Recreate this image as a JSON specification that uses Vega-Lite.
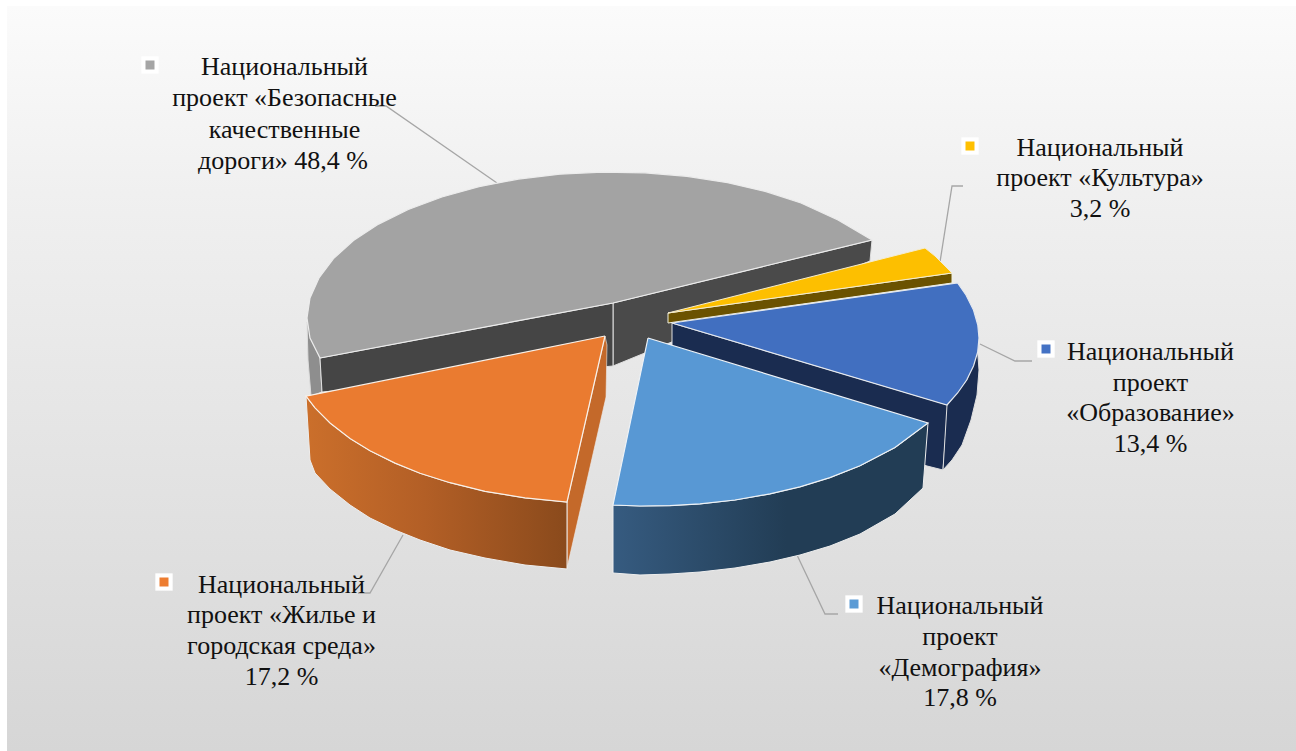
{"$schema":"https://vega.github.io/schema/vega-lite/v6.json","width":1296,"height":751,"padding":0,"autosize":{"type":"fit","contains":"padding"},"background":"#ffffff","view":{"stroke":null},
"datasets":{
"panel":[{"x":7,"x2":1296,"y":6,"y2":751}],
"outline":[
{"part":"grayOuter","i":0,"x":307,"y":322},{"part":"grayOuter","i":1,"x":320,"y":358},{"part":"grayOuter","i":2,"x":322,"y":392},{"part":"grayOuter","i":3,"x":311,"y":396},{"part":"grayOuter","i":4,"x":308,"y":360},{"part":"grayOuter","i":5,"x":307,"y":322},
{"part":"grayWallL","i":0,"x":320,"y":358},{"part":"grayWallL","i":1,"x":613,"y":303},{"part":"grayWallL","i":2,"x":613,"y":366},{"part":"grayWallL","i":3,"x":322,"y":392},{"part":"grayWallL","i":4,"x":320,"y":358},
{"part":"grayWallR","i":0,"x":613,"y":303},{"part":"grayWallR","i":1,"x":872,"y":240},{"part":"grayWallR","i":2,"x":870,"y":261},{"part":"grayWallR","i":3,"x":613,"y":366},{"part":"grayWallR","i":4,"x":613,"y":303},
{"part":"grayTop","i":0,"x":320,"y":358},{"part":"grayTop","i":1,"x":310,"y":338},{"part":"grayTop","i":2,"x":307,"y":318},{"part":"grayTop","i":3,"x":310,"y":298},{"part":"grayTop","i":4,"x":319,"y":278},{"part":"grayTop","i":5,"x":333.5,"y":258.6},{"part":"grayTop","i":6,"x":353.5,"y":240.6},{"part":"grayTop","i":7,"x":378.6,"y":224.1},{"part":"grayTop","i":8,"x":408.3,"y":209.5},{"part":"grayTop","i":9,"x":441.9,"y":197},{"part":"grayTop","i":10,"x":479,"y":186.7},{"part":"grayTop","i":11,"x":518.4,"y":179.1},{"part":"grayTop","i":12,"x":559.9,"y":174.2},{"part":"grayTop","i":13,"x":602.3,"y":172.1},{"part":"grayTop","i":14,"x":645,"y":172.8},{"part":"grayTop","i":15,"x":687,"y":176.3},{"part":"grayTop","i":16,"x":727.6,"y":182.7},{"part":"grayTop","i":17,"x":766,"y":191.6},{"part":"grayTop","i":18,"x":801,"y":203},{"part":"grayTop","i":19,"x":838,"y":220},{"part":"grayTop","i":20,"x":872,"y":240},{"part":"grayTop","i":21,"x":613,"y":303},{"part":"grayTop","i":22,"x":320,"y":358},
{"part":"yellowSide","i":0,"x":668,"y":313},{"part":"yellowSide","i":1,"x":952,"y":273},{"part":"yellowSide","i":2,"x":952,"y":283},{"part":"yellowSide","i":3,"x":668,"y":323},{"part":"yellowSide","i":4,"x":668,"y":313},
{"part":"yellowTop","i":0,"x":668,"y":313},{"part":"yellowTop","i":1,"x":925,"y":248},{"part":"yellowTop","i":2,"x":935,"y":256},{"part":"yellowTop","i":3,"x":952,"y":273},{"part":"yellowTop","i":4,"x":668,"y":313},
{"part":"blueWall","i":0,"x":672,"y":323},{"part":"blueWall","i":1,"x":948,"y":405},{"part":"blueWall","i":2,"x":943,"y":470},{"part":"blueWall","i":3,"x":927,"y":466},{"part":"blueWall","i":4,"x":672,"y":385},{"part":"blueWall","i":5,"x":672,"y":323},
{"part":"blueOuter","i":0,"x":947,"y":405},{"part":"blueOuter","i":1,"x":966.7,"y":380},{"part":"blueOuter","i":2,"x":977.7,"y":352},{"part":"blueOuter","i":3,"x":979,"y":370},{"part":"blueOuter","i":4,"x":977,"y":395},{"part":"blueOuter","i":5,"x":971,"y":420},{"part":"blueOuter","i":6,"x":962,"y":445},{"part":"blueOuter","i":7,"x":952,"y":460},{"part":"blueOuter","i":8,"x":943,"y":470},{"part":"blueOuter","i":9,"x":947,"y":405},
{"part":"blueTop","i":0,"x":672,"y":323},{"part":"blueTop","i":1,"x":957.6,"y":283},{"part":"blueTop","i":2,"x":966,"y":295},{"part":"blueTop","i":3,"x":973.5,"y":310},{"part":"blueTop","i":4,"x":977.8,"y":325},{"part":"blueTop","i":5,"x":979,"y":338},{"part":"blueTop","i":6,"x":977.7,"y":352},{"part":"blueTop","i":7,"x":973.5,"y":366},{"part":"blueTop","i":8,"x":966.7,"y":380},{"part":"blueTop","i":9,"x":957.6,"y":393},{"part":"blueTop","i":10,"x":947,"y":405},{"part":"blueTop","i":11,"x":672,"y":323},
{"part":"skySide","i":0,"x":613,"y":505},{"part":"skySide","i":1,"x":640,"y":506},{"part":"skySide","i":2,"x":670,"y":505.6},{"part":"skySide","i":3,"x":700,"y":503.9},{"part":"skySide","i":4,"x":735,"y":500},{"part":"skySide","i":5,"x":770,"y":493.9},{"part":"skySide","i":6,"x":800,"y":486.8},{"part":"skySide","i":7,"x":830,"y":477.6},{"part":"skySide","i":8,"x":860,"y":465.8},{"part":"skySide","i":9,"x":895,"y":447.6},{"part":"skySide","i":10,"x":928,"y":423},{"part":"skySide","i":11,"x":923,"y":488},{"part":"skySide","i":12,"x":895,"y":514},{"part":"skySide","i":13,"x":860,"y":534},{"part":"skySide","i":14,"x":830,"y":546},{"part":"skySide","i":15,"x":800,"y":555},{"part":"skySide","i":16,"x":770,"y":562},{"part":"skySide","i":17,"x":735,"y":568},{"part":"skySide","i":18,"x":700,"y":572},{"part":"skySide","i":19,"x":670,"y":574},{"part":"skySide","i":20,"x":640,"y":575},{"part":"skySide","i":21,"x":613,"y":573},{"part":"skySide","i":22,"x":613,"y":505},
{"part":"skyTop","i":0,"x":648,"y":338},{"part":"skyTop","i":1,"x":928,"y":423},{"part":"skyTop","i":2,"x":895,"y":447.6},{"part":"skyTop","i":3,"x":860,"y":465.8},{"part":"skyTop","i":4,"x":830,"y":477.6},{"part":"skyTop","i":5,"x":800,"y":486.8},{"part":"skyTop","i":6,"x":770,"y":493.9},{"part":"skyTop","i":7,"x":735,"y":500},{"part":"skyTop","i":8,"x":700,"y":503.9},{"part":"skyTop","i":9,"x":670,"y":505.6},{"part":"skyTop","i":10,"x":640,"y":506},{"part":"skyTop","i":11,"x":613,"y":505},{"part":"skyTop","i":12,"x":648,"y":338},
{"part":"orangeWall","i":0,"x":605,"y":336},{"part":"orangeWall","i":1,"x":607,"y":345},{"part":"orangeWall","i":2,"x":606,"y":397},{"part":"orangeWall","i":3,"x":567,"y":568},{"part":"orangeWall","i":4,"x":567,"y":502},{"part":"orangeWall","i":5,"x":605,"y":336},
{"part":"orangeSide","i":0,"x":306,"y":396.2},{"part":"orangeSide","i":1,"x":315,"y":407.8},{"part":"orangeSide","i":2,"x":330,"y":423},{"part":"orangeSide","i":3,"x":350,"y":438.4},{"part":"orangeSide","i":4,"x":370,"y":450.7},{"part":"orangeSide","i":5,"x":395,"y":463.1},{"part":"orangeSide","i":6,"x":420,"y":473.2},{"part":"orangeSide","i":7,"x":450,"y":482.7},{"part":"orangeSide","i":8,"x":485,"y":491.3},{"part":"orangeSide","i":9,"x":525,"y":497.9},{"part":"orangeSide","i":10,"x":567,"y":502},{"part":"orangeSide","i":11,"x":567,"y":569},{"part":"orangeSide","i":12,"x":525,"y":565},{"part":"orangeSide","i":13,"x":485,"y":558},{"part":"orangeSide","i":14,"x":450,"y":550},{"part":"orangeSide","i":15,"x":420,"y":540},{"part":"orangeSide","i":16,"x":395,"y":530},{"part":"orangeSide","i":17,"x":370,"y":518},{"part":"orangeSide","i":18,"x":350,"y":505},{"part":"orangeSide","i":19,"x":330,"y":489},{"part":"orangeSide","i":20,"x":315,"y":473},{"part":"orangeSide","i":21,"x":310,"y":460},{"part":"orangeSide","i":22,"x":306,"y":396.2},
{"part":"orangeTop","i":0,"x":605,"y":336},{"part":"orangeTop","i":1,"x":567,"y":502},{"part":"orangeTop","i":2,"x":525,"y":497.9},{"part":"orangeTop","i":3,"x":485,"y":491.3},{"part":"orangeTop","i":4,"x":450,"y":482.7},{"part":"orangeTop","i":5,"x":420,"y":473.2},{"part":"orangeTop","i":6,"x":395,"y":463.1},{"part":"orangeTop","i":7,"x":370,"y":450.7},{"part":"orangeTop","i":8,"x":350,"y":438.4},{"part":"orangeTop","i":9,"x":330,"y":423},{"part":"orangeTop","i":10,"x":315,"y":407.8},{"part":"orangeTop","i":11,"x":306,"y":396.2},{"part":"orangeTop","i":12,"x":605,"y":336},
{"part":"leadGray","i":0,"x":375,"y":106},{"part":"leadGray","i":1,"x":386,"y":106},{"part":"leadGray","i":2,"x":497,"y":183},
{"part":"leadYellow","i":0,"x":963,"y":186},{"part":"leadYellow","i":1,"x":952,"y":186},{"part":"leadYellow","i":2,"x":940,"y":262},
{"part":"leadBlue","i":0,"x":980,"y":344},{"part":"leadBlue","i":1,"x":1015,"y":361},{"part":"leadBlue","i":2,"x":1032,"y":361},
{"part":"leadSky","i":0,"x":797,"y":555},{"part":"leadSky","i":1,"x":825,"y":614},{"part":"leadSky","i":2,"x":838,"y":614},
{"part":"leadOrange","i":0,"x":403,"y":535},{"part":"leadOrange","i":1,"x":370,"y":593},{"part":"leadOrange","i":2,"x":358,"y":593}
],
"keys":[{"name":"Безопасные качественные дороги","share":48.4,"x":150,"y":65,"color":"#a5a5a5"},{"name":"Культура","share":3.2,"x":970,"y":146,"color":"#ffc000"},{"name":"Образование","share":13.4,"x":1046,"y":349,"color":"#4472c4"},{"name":"Демография","share":17.8,"x":854,"y":604,"color":"#5b9bd5"},{"name":"Жилье и городская среда","share":17.2,"x":164,"y":582,"color":"#ed7d31"}],
"labels":[
{"t":"Национальный","x":284.5,"y":67},{"t":"проект «Безопасные","x":284.5,"y":98},{"t":"качественные","x":284.5,"y":130},{"t":"дороги» 48,4 %","x":283,"y":161},
{"t":"Национальный","x":1100,"y":148},{"t":"проект «Культура»","x":1100,"y":178},{"t":"3,2 %","x":1100,"y":209},
{"t":"Национальный","x":1150.5,"y":352},{"t":"проект","x":1150.5,"y":383},{"t":"«Образование»","x":1150.5,"y":413},{"t":"13,4 %","x":1150.5,"y":444},
{"t":"Национальный","x":960,"y":606},{"t":"проект","x":960,"y":637},{"t":"«Демография»","x":960,"y":668},{"t":"17,8 %","x":960,"y":698},
{"t":"Национальный","x":281.5,"y":585},{"t":"проект «Жилье и","x":281.5,"y":615},{"t":"городская среда»","x":281.5,"y":646},{"t":"17,2 %","x":281.5,"y":677}
]},
"encoding":{"x":{"field":"x","type":"quantitative","axis":null,"scale":{"domain":[0,1296],"nice":false,"zero":false}},"y":{"field":"y","type":"quantitative","axis":null,"scale":{"domain":[751,0],"nice":false,"zero":false}}},
"layer":[
{"data":{"name":"panel"},"mark":{"type":"rect","fill":{"gradient":"linear","x1":0,"y1":0,"x2":0,"y2":1,"stops":[{"offset":0,"color":"#fbfbfb"},{"offset":0.25,"color":"#f0f0f0"},{"offset":1,"color":"#d6d6d6"}]}},"encoding":{"x2":{"field":"x2"},"y2":{"field":"y2"}}},
{"data":{"name":"outline"},"transform":[{"filter":"indexof(datum.part,'lead')===0"}],"mark":{"type":"line","stroke":"#a6a6a6","strokeWidth":1.3},"encoding":{"detail":{"field":"part"},"order":{"field":"i"}}},
{"data":{"name":"outline"},"transform":[{"filter":"datum.part==='grayOuter'"}],"mark":{"type":"line","fill":"#8e8e8e","stroke":"#dddddd","strokeWidth":1},"encoding":{"order":{"field":"i"}}},
{"data":{"name":"outline"},"transform":[{"filter":"datum.part==='grayWallR'"}],"mark":{"type":"line","fill":"#4a4a4a","stroke":"#e0e0e0","strokeWidth":1},"encoding":{"order":{"field":"i"}}},
{"data":{"name":"outline"},"transform":[{"filter":"datum.part==='grayWallL'"}],"mark":{"type":"line","fill":"#454545","stroke":"#e0e0e0","strokeWidth":1},"encoding":{"order":{"field":"i"}}},
{"data":{"name":"outline"},"transform":[{"filter":"datum.part==='grayTop'"}],"mark":{"type":"line","fill":"#a3a3a3","stroke":"#ececec","strokeWidth":1.2},"encoding":{"order":{"field":"i"}}},
{"data":{"name":"outline"},"transform":[{"filter":"datum.part==='yellowSide'"}],"mark":{"type":"line","fill":"#6b5200","stroke":"#f0f0e0","strokeWidth":1},"encoding":{"order":{"field":"i"}}},
{"data":{"name":"outline"},"transform":[{"filter":"datum.part==='yellowTop'"}],"mark":{"type":"line","fill":"#fdbf00","stroke":"#f4ecd0","strokeWidth":1},"encoding":{"order":{"field":"i"}}},
{"data":{"name":"outline"},"transform":[{"filter":"datum.part==='blueWall'"}],"mark":{"type":"line","fill":"#1a2c50","stroke":"#e0e0e0","strokeWidth":1},"encoding":{"order":{"field":"i"}}},
{"data":{"name":"outline"},"transform":[{"filter":"datum.part==='blueOuter'"}],"mark":{"type":"line","fill":"#1a2c50","stroke":"#e0e0e0","strokeWidth":1},"encoding":{"order":{"field":"i"}}},
{"data":{"name":"outline"},"transform":[{"filter":"datum.part==='blueTop'"}],"mark":{"type":"line","fill":"#416fc0","stroke":"#e4e8ee","strokeWidth":1.2},"encoding":{"order":{"field":"i"}}},
{"data":{"name":"outline"},"transform":[{"filter":"datum.part==='skySide'"}],"mark":{"type":"line","fill":{"gradient":"linear","x1":0,"y1":0,"x2":1,"y2":0,"stops":[{"offset":0,"color":"#365b80"},{"offset":0.55,"color":"#223d55"},{"offset":1,"color":"#223d55"}]},"stroke":"#eeeeee","strokeWidth":1},"encoding":{"order":{"field":"i"}}},
{"data":{"name":"outline"},"transform":[{"filter":"datum.part==='skyTop'"}],"mark":{"type":"line","fill":"#5898d4","stroke":"#eef2f6","strokeWidth":1.2},"encoding":{"order":{"field":"i"}}},
{"data":{"name":"outline"},"transform":[{"filter":"datum.part==='orangeWall'"}],"mark":{"type":"line","fill":"#c4692a","stroke":"#eeeeee","strokeWidth":0.6},"encoding":{"order":{"field":"i"}}},
{"data":{"name":"outline"},"transform":[{"filter":"datum.part==='orangeSide'"}],"mark":{"type":"line","fill":{"gradient":"linear","x1":0,"y1":0,"x2":1,"y2":0,"stops":[{"offset":0,"color":"#cb6f2b"},{"offset":0.45,"color":"#b35f26"},{"offset":1,"color":"#8a4a1c"}]},"stroke":"#eeeeee","strokeWidth":1},"encoding":{"order":{"field":"i"}}},
{"data":{"name":"outline"},"transform":[{"filter":"datum.part==='orangeTop'"}],"mark":{"type":"line","fill":"#ea7b30","stroke":"#f8f0e8","strokeWidth":1.2},"encoding":{"order":{"field":"i"}}},
{"data":{"name":"keys"},"mark":{"type":"square","filled":true,"opacity":1,"size":300,"color":"#ffffff"}},
{"data":{"name":"keys"},"mark":{"type":"square","filled":true,"opacity":1,"size":81},"encoding":{"color":{"field":"color","type":"nominal","scale":null}}},
{"data":{"name":"labels"},"mark":{"type":"text","font":"'Liberation Serif', 'Times New Roman', serif","fontSize":26,"align":"center","baseline":"middle","color":"#111111"},"encoding":{"text":{"field":"t","type":"nominal"}}}
]}
